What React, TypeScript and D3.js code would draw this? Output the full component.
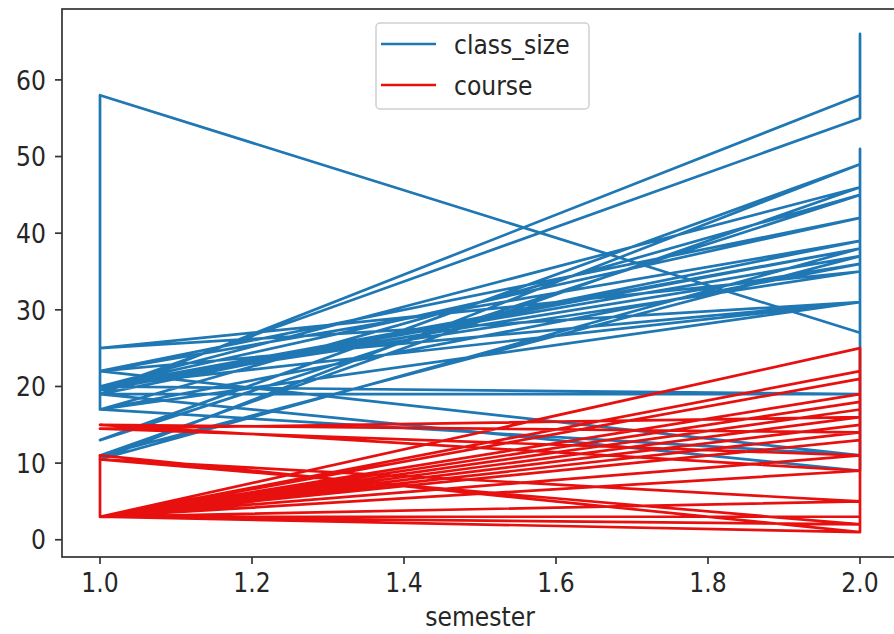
import React from "react";
import * as d3 from "d3";

// Rows of the source table, in order (line connects consecutive rows)
const semester = [1, 1, 2, 2, 1, 2, 1, 2, 1, 2, 2, 2, 1, 2, 1, 2, 1, 2, 1, 2, 1, 2, 1, 2, 1, 2, 1, 2, 1, 2, 1, 2, 2, 2, 1, 2, 1, 2];
const classSize = [17, 58, 27, 31, 25, 35, 20, 19, 19, 58, 66, 55, 19.5, 38, 10.5, 49, 13, 45, 17, 11, 22, 42, 20, 37, 11, 46, 20, 31, 22, 39, 19, 9, 51, 31, 17, 36, 20, 38];
const course = [3, 11, 1, 5, 3, 14, 15, 9, 3, 25, 12, 19, 3, 21, 3, 17, 3, 16, 14.5, 11, 3, 13, 3, 5, 10.5, 2, 3, 18, 3, 15, 3, 1, 12, 3, 3, 22, 3, 21];

const seriesNames = ["class_size", "course"];
const seriesColors = ["#1f77b4", "#e8100f"];
const xTicks = [1.0, 1.2, 1.4, 1.6, 1.8, 2.0];
const yTicks = [0, 10, 20, 30, 40, 50, 60];

const W = 894;
const H = 634;
const L = 62, R = 898, T = 9, B = 557;

export default function App() {
  const x = d3.scaleLinear().domain([0.95, 2.05]).range([L, R]);
  const y = d3.scaleLinear().domain([-2.25, 69.25]).range([B, T]);
  const series = [classSize, course];
  const line = (vals: number[]) =>
    d3.line<number>()
      .x((_, i) => x(semester[i]))
      .y((v) => y(v))(vals) || "";
  const font = "'DejaVu Sans', sans-serif";
  const txt = "#262626";
  const fs = 23.5;
  const sy = 1.15;
  return (
    <svg width={W} height={H} style={{ position: "absolute", left: 0, top: 0, background: "#fff" }}>
      <defs>
        <clipPath id="plot">
          <rect x={L} y={T} width={R - L} height={B - T} />
        </clipPath>
      </defs>
      <g clipPath="url(#plot)">
        {series.map((vals, s) => (
          <path key={s} d={line(vals)} fill="none" stroke={seriesColors[s]} strokeWidth={2.7} strokeLinejoin="round" strokeLinecap="butt" />
        ))}
      </g>
      {/* spines */}
      <rect x={L} y={T} width={R - L} height={B - T} fill="none" stroke="#333" strokeWidth={1.7} />
      {/* x ticks */}
      {xTicks.map((t) => (
        <g key={t} transform={`translate(${x(t)},0)`}>
          <line y1={B} y2={B + 7} stroke="#333" strokeWidth={1.7} />
          <text transform={`translate(0,${B + 35}) scale(1,${sy})`} textAnchor="middle" fontFamily={font} fontSize={fs} fill={txt}>{t.toFixed(1)}</text>
        </g>
      ))}
      {/* y ticks */}
      {yTicks.map((t) => (
        <g key={t} transform={`translate(0,${y(t)})`}>
          <line x1={L - 7} x2={L} stroke="#333" strokeWidth={1.7} />
          <text transform={`translate(${L - 16},0) scale(1,${sy})`} dy="0.36em" textAnchor="end" fontFamily={font} fontSize={fs} fill={txt}>{t}</text>
        </g>
      ))}
      <text transform={`translate(${(L + R) / 2},626) scale(1,${sy})`} textAnchor="middle" fontFamily={font} fontSize={fs} fill={txt}>semester</text>
      {/* legend */}
      <rect x={376} y={23} width={213} height={86} rx={4} fill="#fff" fillOpacity={0.8} stroke="#d0d0d0" strokeWidth={1.5} />
      {seriesNames.map((n, i) => (
        <g key={n} transform={`translate(0,${44 + i * 41})`}>
          <line x1={381} x2={436} stroke={seriesColors[i]} strokeWidth={2.7} />
          <text transform={`translate(454,0) scale(1,${sy})`} dy="0.36em" fontFamily={font} fontSize={fs} fill={txt}>{n}</text>
        </g>
      ))}
    </svg>
  );
}
